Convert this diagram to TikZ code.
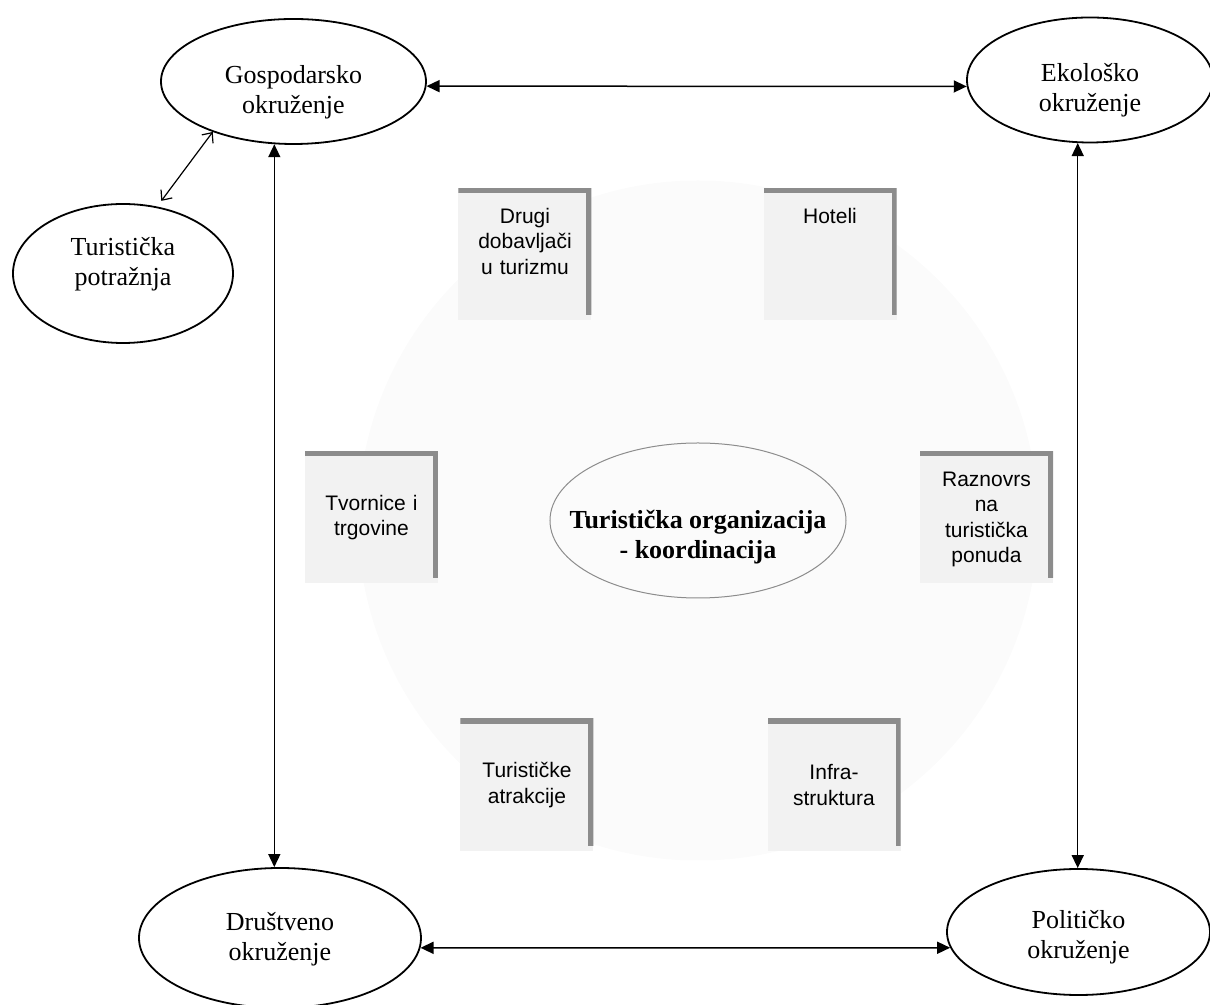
\documentclass[tikz,border=0pt]{standalone}
\usepackage{fontspec}
\setmainfont{Liberation Serif}
\newfontfamily\boxfont{Liberation Sans}
\usepackage{tikz}
\usetikzlibrary{shapes.geometric}
\usetikzlibrary{arrows.meta}
\begin{document}
\begin{tikzpicture}[node distance=133pt,>={Triangle[length=6.5pt,width=6pt]},
                    env/.style=        {ellipse,draw,line width=0.9pt,inner sep=0pt,align=center,font=\fontsize{13}{15}\selectfont,text depth=3pt},
                    org ellipse/.style={env,draw=black!45,line width=0.5pt,inner xsep=-13pt,font=\bfseries\fontsize{13}{15}\selectfont},
                    svcbox/.style=     {rectangle,fill=black!5,minimum width=66.5pt,minimum height=66pt,text width=62pt,align=center,inner sep=0pt,
                                        font=\boxfont\fontsize{10.5}{12.75}\selectfont,
                                        path picture={\draw[black!45,line width=5pt] (path picture bounding box.north west) -- (path picture bounding box.north east) -- ([yshift=2.5pt]path picture bounding box.south east);}},
                    top svcbox/.style= {svcbox,text height=17.5pt,text depth=48.5pt},
                    link/.style=       {<->,line width=0.75pt},
                    demand link/.style={{Straight Barb[length=4pt,width=7pt]}-{Straight Barb[length=4pt,width=7pt]},line width=0.6pt}]
      \useasboundingbox (-349pt,-242.25pt) rectangle (256pt,260.25pt);
      \clip (-349pt,-242.25pt) rectangle (256pt,260.25pt);
      \fill[black!1.5] (0,0) circle (170pt);
      \node[org ellipse, minimum width=148pt, minimum height=77.5pt, text height=41pt] (org) {Turistička organizacija\\- koordinacija};
      \node[top svcbox, above of=org, xshift=-86.5pt] (drugi) {Drugi\\dobavljači\\u turizmu};
      \node[top svcbox, above of=org, xshift=66pt] (hoteli) {Hoteli};
      \node[svcbox, left of=org, xshift=-30.25pt, yshift=1.5pt] (tvornice) {Tvornice i\\trgovine};
      \node[top svcbox, right of=org, xshift=11.25pt, yshift=1.5pt] (raznovrs) {Raznovrs\\na\\turistička\\ponuda};
      \node[svcbox, below of=org, xshift=-85.5pt, yshift=0.75pt] (atrakcije) {Turističke\\atrakcije};
      \node[svcbox, below of=org, xshift=68pt, yshift=0.75pt] (infra) {Infra-\\struktura};
      \node[env, minimum width=132.5pt, minimum height=62.5pt, text height=35pt, above of=org, xshift=-202.25pt, yshift=86.5pt] (gosp) {Gospodarsko\\okruženje};
      \node[env, minimum width=123pt, minimum height=62.5pt, text height=35pt, above of=org, xshift=196pt, yshift=87.25pt] (eko) {Ekološko\\okruženje};
      \node[env, minimum width=110pt, minimum height=69.5pt, text height=24pt, text depth=12pt, left of=org, xshift=-154.5pt, yshift=123.5pt] (tur) {Turistička\\potražnja};
      \node[env, minimum width=141pt, minimum height=70pt, text height=25.6pt, below of=org, xshift=-209pt, yshift=-75.75pt] (drus) {Društveno\\okruženje};
      \node[env, minimum width=131.5pt, minimum height=63pt, text height=29.6pt, below of=org, xshift=190.25pt, yshift=-72.75pt] (pol) {Političko\\okruženje};
      \draw[link] (gosp.-2) -- (eko.-177);
      \draw[link] (gosp.-107) -- (gosp.-107 |- drus.north);
      \draw[link] (eko.-101) -- (eko.-101 |- pol.north);
      \draw[link] (drus.-4) -- (pol.-173);
      \draw[demand link, shorten <=3.5pt] (tur.63) -- (gosp.-148);
\end{tikzpicture}
\end{document}
